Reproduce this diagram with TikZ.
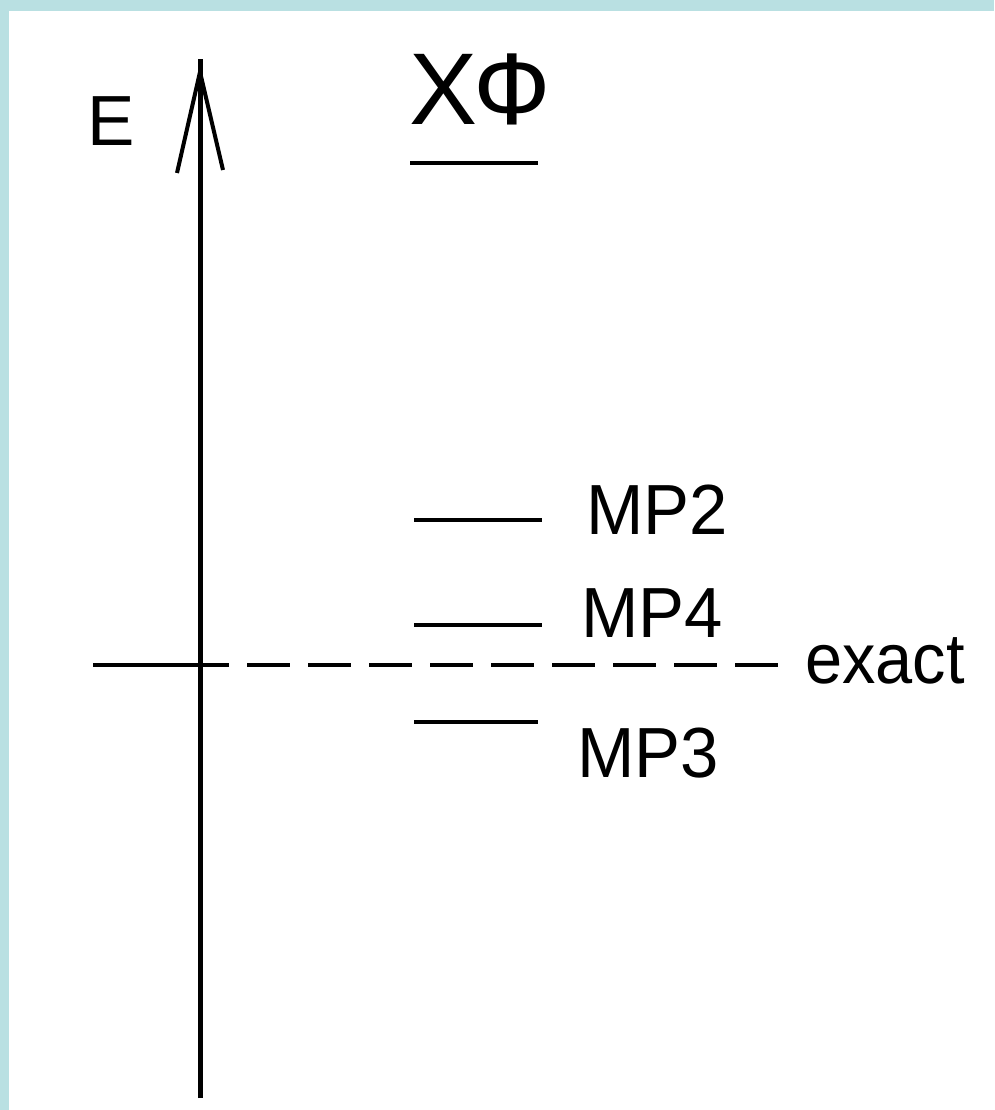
\documentclass[tikz,border=0pt]{standalone}
\usepackage{fontspec}
\setmainfont{Liberation Sans}
\definecolor{frame}{HTML}{B9E0E2}
\tikzset{
  lbl/.style={inner sep=0pt, anchor=base west, font=\fontsize{71}{80}\selectfont},
  big/.style={inner sep=0pt, anchor=base west, font=\fontsize{102}{110}\selectfont},
  level/.style={line width=4pt},
  axis/.style={line width=5pt},
}
\begin{document}
\begin{tikzpicture}[x=1pt,y=-1pt]
\useasboundingbox (0,0) rectangle (994,1110);
\fill[white] (0,0) rectangle (994,1110);
\fill[frame] (0,0) rectangle (994,11);
\fill[frame] (0,0) rectangle (9,1110);
% axis
\coordinate (axbot) at (200,1098);
\coordinate (axtop) at (200,59);
\coordinate (tip) at (200,72);
\coordinate (hl) at (177,173);
\coordinate (hr) at (223,170);
\draw[axis] (axbot) -- (axtop);
\draw[line width=4pt] (hl) -- (tip) -- (hr);
\node[lbl] (E) at (87,146) {E};
% HF
\node[big] (HF) at (409,125) {ХФ};
\coordinate (hf1) at (410,163); \coordinate (hf2) at (538,163);
\draw[level] (hf1) -- (hf2);
% MP levels
\coordinate (mp2a) at (414,520); \coordinate (mp2b) at (542,520);
\coordinate (mp4a) at (414,625); \coordinate (mp4b) at (542,625);
\coordinate (mp3a) at (414,722); \coordinate (mp3b) at (538,722);
\draw[level] (mp2a) -- (mp2b);
\draw[level] (mp4a) -- (mp4b);
\draw[level] (mp3a) -- (mp3b);
\node[lbl, xscale=0.97] (MP2) at (586,534) {MP2};
\node[lbl, xscale=0.97] (MP4) at (581,637) {MP4};
\node[lbl, xscale=0.97] (MP3) at (577,777) {MP3};
% exact
\coordinate (ex0) at (93,665); \coordinate (ex1) at (229,665);
\coordinate (ex2) at (247,665); \coordinate (ex3) at (783,665);
\draw[level] (ex0) -- (ex1);
\draw[level, dash pattern=on 43pt off 18pt] (ex2) -- (ex3);
\node[lbl, xscale=0.94] (exact) at (805,683) {exact};
\end{tikzpicture}
\end{document}
